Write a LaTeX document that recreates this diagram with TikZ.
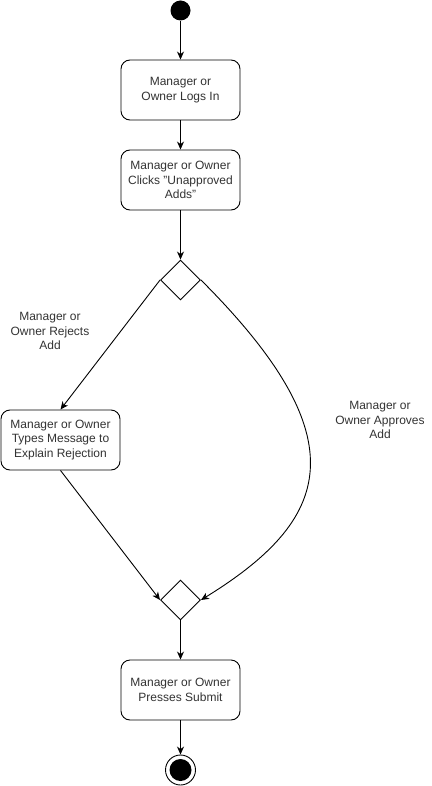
\documentclass[tikz,border=0pt]{standalone}
\usepackage{fontspec}
\setmainfont{Liberation Sans}
\usetikzlibrary{arrows.meta,shapes.geometric}
\begin{document}
\begin{tikzpicture}[x=1pt,y=-1pt,
  every node/.style={font=\fontsize{12}{14.5}\selectfont, text=black!80},
  actbox/.style={draw=black, line width=0.9pt, rounded corners=9pt, minimum width=119pt, minimum height=60pt, inner sep=0pt, align=center, fill=white},
  decision/.style={draw=black, line width=0.9pt, diamond, minimum width=40pt, minimum height=40pt, inner sep=0pt, fill=white},
  lbl/.style={align=center, inner sep=0pt},
  flow/.style={line width=0.9pt, -{Stealth[length=8pt,width=7pt,inset=2.5pt]}}]
\useasboundingbox (0,0) rectangle (431,786);
\node[circle, fill=black, minimum size=20pt, inner sep=0pt] (start) at (180.5,10.5) {};
\node[actbox] (login) at (180.5,90) {Manager or\\Owner Logs In};
\node[actbox] (clicks) at (180.5,180) {Manager or Owner\\Clicks "Unapproved\\Adds"};
\node[decision] (d1) at (180.5,280) {};
\node[actbox] (types) at (60.5,440) {Manager or Owner\\Types Message to\\Explain Rejection};
\node[decision] (d2) at (180.5,600) {};
\node[actbox] (submit) at (180.5,690) {Manager or Owner\\Presses Submit};
\node[circle, draw=black, line width=0.9pt, minimum size=30pt, inner sep=0pt] (endo) at (180.5,770) {};
\node[circle, fill=black, minimum size=22pt, inner sep=0pt] (endi) at (180.5,770) {};
\node[lbl] (rej) at (50,331) {Manager or\\Owner Rejects\\Add};
\node[lbl] (app) at (380,420) {Manager or\\Owner Approves\\Add};
\draw[flow] (start) -- (login);
\draw[flow] (login) -- (clicks);
\draw[flow] (clicks) -- (d1.north);
\draw[flow] (d1.west) -- (types.north);
\draw[flow] (types.south) -- (d2.west);
\draw[flow] (d1.east) .. controls +(160,160) and +(130,-80) .. (d2.east);
\draw[flow] (d2.south) -- (submit);
\draw[flow] (submit) -- (endo);
\end{tikzpicture}
\end{document}
